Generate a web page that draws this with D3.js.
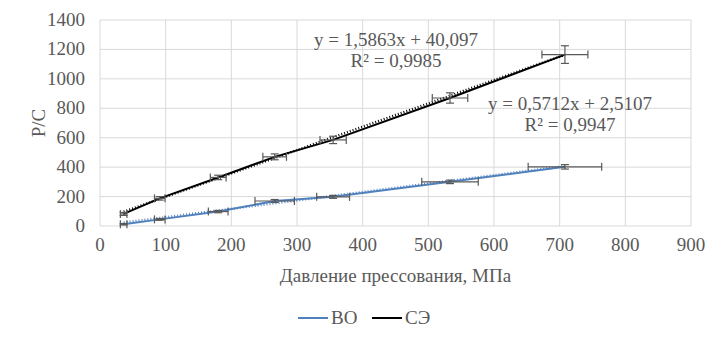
<!DOCTYPE html>
<html>
<head>
<meta charset="utf-8">
<script src="https://cdn.jsdelivr.net/npm/d3@7"></script>
<style>
body { margin: 0; background: #fff; }
</style>
</head>
<body>
<div id="chart"></div>
<script>
let width = 724;
let height = 344;
const font = "'Liberation Serif', 'Times New Roman', 'DejaVu Serif', serif";

// данные
const pressureSE = [36, 91, 180, 266, 355, 533, 708];
const valuesSE = [82, 188, 330, 470, 585, 870, 1165];
const xErrSE = [5, 8, 12, 18, 20, 27, 35];
const yErrSE = [10, 12, 15, 20, 25, 35, 60];

const pressureVO = [36, 91, 180, 266, 355, 533, 708];
const valuesVO = [12, 45, 98, 170, 198, 300, 402];
const xErrVO = [5, 8, 15, 30, 25, 43, 56];
const yErrVO = [5, 6, 8, 10, 10, 12, 15];

const xTicks = [0, 100, 200, 300, 400, 500, 600, 700, 800, 900];
const yTicks = [0, 200, 400, 600, 800, 1000, 1200, 1400];

const fitSE = { a: 1.5863, b: 40.097, label1: "y = 1,5863x + 40,097", label2: "R² = 0,9985" };
const fitVO = { a: 0.5712, b: 2.5107, label1: "y = 0,5712x + 2,5107", label2: "R² = 0,9947" };

const colorVO = "#4f81bd";
const colorSE = "#000000";

function chart() {
    let margin = { left: 100, right: 33, top: 20, bottom: 118 };

    let xScale = d3.scaleLinear().domain([0, 900]).range([margin.left, width - margin.right]);
    let yScale = d3.scaleLinear().domain([0, 1400]).range([height - margin.bottom, margin.top]);

    let svg = d3.select("#chart").append("svg")
        .attr("width", width)
        .attr("height", height)
        .attr("font-family", font)
        .style("font-family", font);

    // сетка
    svg.append("g").selectAll("line").data(yTicks).join("line")
        .attr("x1", xScale(0)).attr("x2", xScale(900))
        .attr("y1", d => yScale(d)).attr("y2", d => yScale(d))
        .attr("stroke", "#d9d9d9").attr("stroke-width", 1);
    svg.append("g").selectAll("line").data(xTicks).join("line")
        .attr("x1", d => xScale(d)).attr("x2", d => xScale(d))
        .attr("y1", yScale(0)).attr("y2", yScale(1400))
        .attr("stroke", "#d9d9d9").attr("stroke-width", 1);

    function txt(x, y, s, anchor) {
        return svg.append("text").attr("x", x).attr("y", y)
            .attr("text-anchor", anchor || "middle")
            .attr("font-family", font).attr("font-size", 19)
            .attr("fill", "#595959").text(s);
    }

    // подписи осей
    yTicks.forEach(d => txt(xScale(0) - 15, yScale(d) + 6, d, "end"));
    xTicks.forEach(d => txt(xScale(d), yScale(0) + 25, d));

    txt(0, 0, "P/C").attr("transform", `translate(45,${(yScale(0) + yScale(1400)) / 2}) rotate(-90)`);
    txt((xScale(0) + xScale(900)) / 2, 282, "Давление прессования, МПа");

    let line = d3.line().x(d => xScale(d[0])).y(d => yScale(d[1]));

    function series(xs, ys, xe, ye, fit, color) {
        let pts = xs.map((x, i) => [x, ys[i]]);
        // линия тренда
        let x0 = d3.min(xs), x1 = d3.max(xs);
        svg.append("path")
            .datum([[x0, fit.a * x0 + fit.b], [x1, fit.a * x1 + fit.b]])
            .attr("d", line).attr("fill", "none")
            .attr("stroke", color).attr("stroke-width", 2.5)
            .attr("stroke-dasharray", "1,2");
        svg.append("path")
            .datum(pts)
            .attr("d", line).attr("fill", "none")
            .attr("stroke", color).attr("stroke-width", 2);
        // планки погрешностей
        let g = svg.append("g").attr("stroke", "#595959").attr("stroke-width", 1.2);
        pts.forEach((p, i) => {
            let cx = xScale(p[0]), cy = yScale(p[1]);
            let xa = xScale(p[0] - xe[i]), xb = xScale(p[0] + xe[i]);
            let ya = yScale(p[1] - ye[i]), yb = yScale(p[1] + ye[i]);
            g.append("line").attr("x1", xa).attr("x2", xb).attr("y1", cy).attr("y2", cy);
            g.append("line").attr("x1", xa).attr("x2", xa).attr("y1", cy - 4).attr("y2", cy + 4);
            g.append("line").attr("x1", xb).attr("x2", xb).attr("y1", cy - 4).attr("y2", cy + 4);
            g.append("line").attr("x1", cx).attr("x2", cx).attr("y1", ya).attr("y2", yb);
            g.append("line").attr("x1", cx - 4).attr("x2", cx + 4).attr("y1", ya).attr("y2", ya);
            g.append("line").attr("x1", cx - 4).attr("x2", cx + 4).attr("y1", yb).attr("y2", yb);
        });
    }

    series(pressureVO, valuesVO, xErrVO, yErrVO, fitVO, colorVO);
    series(pressureSE, valuesSE, xErrSE, yErrSE, fitSE, colorSE);

    // уравнения
    txt(396, 46, fitSE.label1);
    txt(396, 67, fitSE.label2);
    txt(570, 110, fitVO.label1);
    txt(570, 131, fitVO.label2);

    // легенда
    let legend = [["ВО", colorVO, 298], ["СЭ", colorSE, 372]];
    legend.forEach(l => {
        svg.append("line").attr("x1", l[2]).attr("x2", l[2] + 30)
            .attr("y1", 318).attr("y2", 318)
            .attr("stroke", l[1]).attr("stroke-width", 2);
        txt(l[2] + 33, 324, l[0], "start");
    });
}

chart();
</script>
</body>
</html>
